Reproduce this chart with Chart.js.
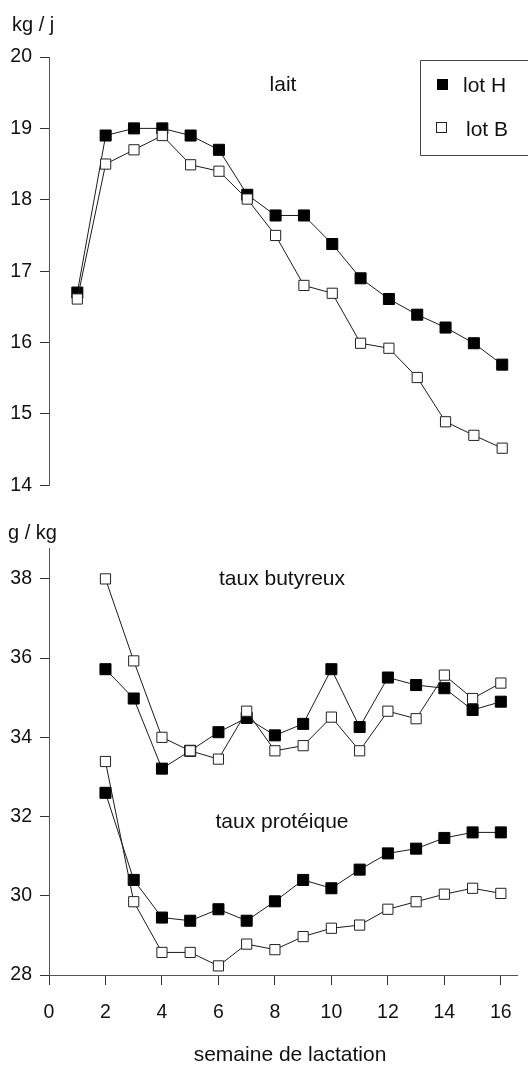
<!DOCTYPE html>
<html>
<head>
<meta charset="utf-8">
<script src="https://cdn.jsdelivr.net/npm/chart.js@4.4.1/dist/chart.umd.min.js"></script>
<style>
  html, body { margin: 0; padding: 0; background: #fff; }
  #wrap { position: relative; width: 528px; height: 1065px; overflow: hidden; }
  canvas { position: absolute; left: 0; }
</style>
</head>
<body>
<div id="wrap">
  <canvas id="laitChart" width="528" height="505" style="top:0"></canvas>
  <canvas id="tauxChart" width="528" height="560" style="top:505px"></canvas>
</div>
<script>
// semaines
const weeksLait = [1, 2, 3, 4, 5, 6, 7, 8, 9, 10, 11, 12, 13, 14, 15, 16];
const weeksTaux = [2, 3, 4, 5, 6, 7, 8, 9, 10, 11, 12, 13, 14, 15, 16];

// lait (kg / j)
const laitH = [16.7, 18.9, 19.0, 19.0, 18.9, 18.7, 18.07, 17.78, 17.78, 17.38, 16.9, 16.61, 16.39, 16.21, 15.99, 15.69];
const laitB = [16.61, 18.5, 18.7, 18.9, 18.49, 18.4, 18.01, 17.5, 16.8, 16.69, 15.99, 15.92, 15.51, 14.89, 14.7, 14.52];

// taux butyreux / protéique (g / kg)
const butH = [35.72, 34.98, 33.21, 33.66, 34.13, 34.49, 34.05, 34.34, 35.72, 34.26, 35.51, 35.32, 35.24, 34.69, 34.9];
const butB = [38.0, 35.93, 34.0, 33.66, 33.45, 34.66, 33.66, 33.79, 34.51, 33.66, 34.66, 34.47, 35.57, 34.98, 35.37];
const protH = [32.6, 30.4, 29.45, 29.37, 29.66, 29.37, 29.86, 30.4, 30.19, 30.66, 31.07, 31.19, 31.46, 31.6, 31.6];
const protB = [33.39, 29.85, 28.57, 28.57, 28.23, 28.78, 28.64, 28.97, 29.18, 29.26, 29.66, 29.85, 30.04, 30.19, 30.06];

// ticks
const xTicks = [0, 2, 4, 6, 8, 10, 12, 14, 16];
const laitTicks = [14, 15, 16, 17, 18, 19, 20];
const tauxTicks = [28, 30, 32, 34, 36, 38];

const FONT = '"Liberation Sans", Arial, Helvetica, sans-serif';
const INK = '#111';

function pts(xs, ys) { return xs.map((x, i) => ({ x: x, y: ys[i] })); }

function lotH(label, data) {
  return {
    label: label, data: data, order: 2, clip: false,
    borderColor: '#1a1a1a', borderWidth: 1, tension: 0,
    pointStyle: 'rect', pointRadius: 7.8,
    pointBackgroundColor: '#000', pointBorderColor: '#000', pointBorderWidth: 1
  };
}
function lotB(label, data) {
  return {
    label: label, data: data, order: 1, clip: false,
    borderColor: '#1a1a1a', borderWidth: 1, tension: 0,
    pointStyle: 'rect', pointRadius: 7.2,
    pointBackgroundColor: '#fff', pointBorderColor: '#222', pointBorderWidth: 1
  };
}

function yScale(min, max, ticks) {
  return {
    min: min, max: max,
    afterBuildTicks: s => { s.ticks = ticks.map(v => ({ value: v })); },
    afterFit: s => { s.width = 49; },
    grid: { drawOnChartArea: false, tickLength: 9, color: '#333' },
    border: { color: '#555', width: 1 },
    ticks: { padding: 8, color: INK, font: { family: FONT, size: 19.5 } }
  };
}

// textes libres
function textPlugin(items) {
  return {
    id: 'texts',
    afterDraw(chart) {
      const ctx = chart.ctx;
      ctx.save();
      ctx.fillStyle = INK;
      ctx.textBaseline = 'middle';
      items.forEach(t => {
        ctx.font = (t.size || 21) + 'px ' + FONT;
        ctx.textAlign = t.align || 'center';
        ctx.fillText(t.text, t.x, t.y);
      });
      ctx.restore();
    }
  };
}

const legendBox = {
  id: 'legendBox',
  afterDraw(chart) {
    const ctx = chart.ctx;
    ctx.save();
    ctx.strokeStyle = '#444';
    ctx.lineWidth = 1;
    ctx.beginPath();
    ctx.moveTo(535, 60.5); ctx.lineTo(420.5, 60.5); ctx.lineTo(420.5, 155.5); ctx.lineTo(535, 155.5);
    ctx.stroke();
    ctx.fillStyle = '#000';
    ctx.fillRect(437, 79, 11, 11);
    ctx.fillStyle = '#fff';
    ctx.strokeStyle = '#222';
    ctx.fillRect(436.5, 122.5, 10, 10);
    ctx.strokeRect(436.5, 122.5, 10, 10);
    ctx.fillStyle = INK;
    ctx.font = '21px ' + FONT;
    ctx.textAlign = 'left';
    ctx.textBaseline = 'middle';
    ctx.fillText('lot H', 463, 86);
    ctx.fillText('lot B', 466, 130);
    ctx.restore();
  }
};

const common = {
  responsive: false,
  animation: false,
  events: [],
  plugins: { legend: { display: false }, tooltip: { enabled: false } }
};

new Chart(document.getElementById('laitChart'), {
  type: 'line',
  data: {
    datasets: [
      lotH('lot H', pts(weeksLait, laitH)),
      lotB('lot B', pts(weeksLait, laitB))
    ]
  },
  options: Object.assign({}, common, {
    layout: { padding: { top: 57, bottom: 14, left: 0, right: 4 } },
    scales: {
      x: { type: 'linear', min: 0, max: 16.6, display: false },
      y: yScale(14, 20, laitTicks)
    }
  }),
  plugins: [
    textPlugin([
      { text: 'kg / j', x: 12, y: 25, align: 'left', size: 20 },
      { text: 'lait', x: 283, y: 85 }
    ]),
    legendBox
  ]
});

new Chart(document.getElementById('tauxChart'), {
  type: 'line',
  data: {
    datasets: [
      lotH('butyreux H', pts(weeksTaux, butH)),
      lotB('butyreux B', pts(weeksTaux, butB)),
      lotH('protéique H', pts(weeksTaux, protH)),
      lotB('protéique B', pts(weeksTaux, protB))
    ]
  },
  options: Object.assign({}, common, {
    layout: { padding: { top: 43, bottom: 0, left: 0, right: 4 } },
    scales: {
      x: {
        type: 'linear', min: 0, max: 16.6,
        afterBuildTicks: s => { s.ticks = xTicks.map(v => ({ value: v })); },
        afterFit: s => { s.height = 90; },
        grid: { drawOnChartArea: false, tickLength: 10, color: '#333' },
        border: { color: '#555', width: 1 },
        ticks: { padding: 16, color: INK, maxRotation: 0, font: { family: FONT, size: 19.5 } }
      },
      y: yScale(28, 38.78, tauxTicks)
    }
  }),
  plugins: [
    textPlugin([
      { text: 'g / kg', x: 8, y: 28, align: 'left', size: 20 },
      { text: 'taux butyreux', x: 282, y: 74 },
      { text: 'taux protéique', x: 282, y: 317 },
      { text: 'semaine de lactation', x: 290, y: 550 }
    ])
  ]
});
</script>
</body>
</html>
